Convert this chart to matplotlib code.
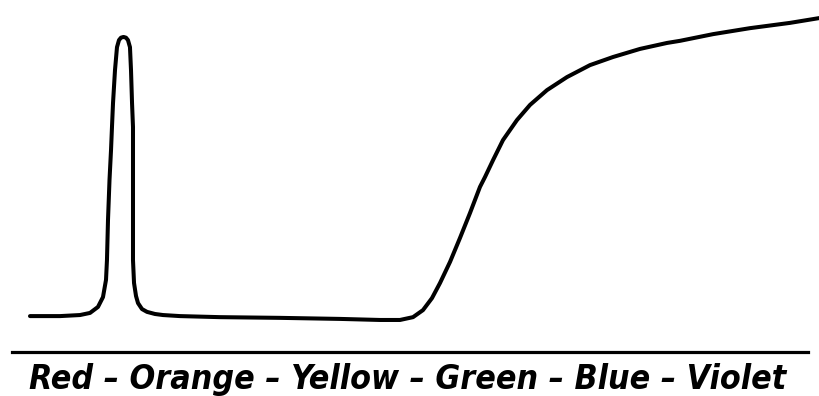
import numpy as np
import matplotlib.pyplot as plt

# absorption curve: relative position along the spectrum (0-100) vs absorbance
pos = [2.26, 6.03, 8.54, 9.80, 10.80, 11.43, 11.81, 11.93, 12.06, 12.25, 12.44,
       12.56, 12.69, 12.94, 13.19, 13.44, 13.69, 14.01, 14.32, 14.57, 14.82,
       14.95, 15.08, 15.20, 15.20, 15.20, 15.20, 15.33, 15.58, 15.83, 16.33,
       16.96, 17.96, 18.97, 21.11, 26.13, 33.67, 41.21, 46.23, 48.74, 50.38,
       51.63, 52.76, 53.77, 55.03, 56.28, 57.54, 58.79, 59.42, 60.43, 61.68,
       63.44, 65.08, 67.21, 69.72, 72.61, 75.50, 78.89, 82.29, 83.92, 88.07,
       92.71, 97.74, 101.51]
absorb = [0.102, 0.102, 0.105, 0.111, 0.128, 0.156, 0.205, 0.261, 0.375, 0.489,
          0.574, 0.639, 0.707, 0.801, 0.866, 0.886, 0.893, 0.895, 0.893, 0.886,
          0.866, 0.801, 0.707, 0.639, 0.489, 0.347, 0.261, 0.196, 0.159, 0.139,
          0.122, 0.114, 0.108, 0.105, 0.102, 0.099, 0.097, 0.094, 0.091, 0.091,
          0.099, 0.119, 0.153, 0.196, 0.256, 0.324, 0.395, 0.469, 0.497, 0.545,
          0.602, 0.659, 0.702, 0.744, 0.781, 0.815, 0.838, 0.861, 0.878, 0.884,
          0.903, 0.920, 0.935, 0.949]
colours = ['Red', 'Orange', 'Yellow', 'Green', 'Blue', 'Violet']

fig = plt.figure(figsize=(8.2, 3.96), dpi=100)
ax = fig.add_axes([12 / 820, 44 / 396, 796 / 820, 352 / 396])
ax.plot(pos, absorb, color='black', lw=2.9, solid_joinstyle='round',
        solid_capstyle='round', clip_on=False)
ax.set_xlim(0, 100)
ax.set_ylim(0, 1)
for side in ['top', 'left', 'right']:
    ax.spines[side].set_visible(False)
ax.spines['bottom'].set_linewidth(2.3)
ax.set_xticks([])
ax.set_yticks([])

fig.text(408 / 820, 7 / 396, ' \u2013 '.join(colours), ha='center', va='baseline',
         family='DejaVu Sans', stretch='condensed', weight='bold',
         style='italic', fontsize=24.3)
fig.savefig('out.png', dpi=100)
